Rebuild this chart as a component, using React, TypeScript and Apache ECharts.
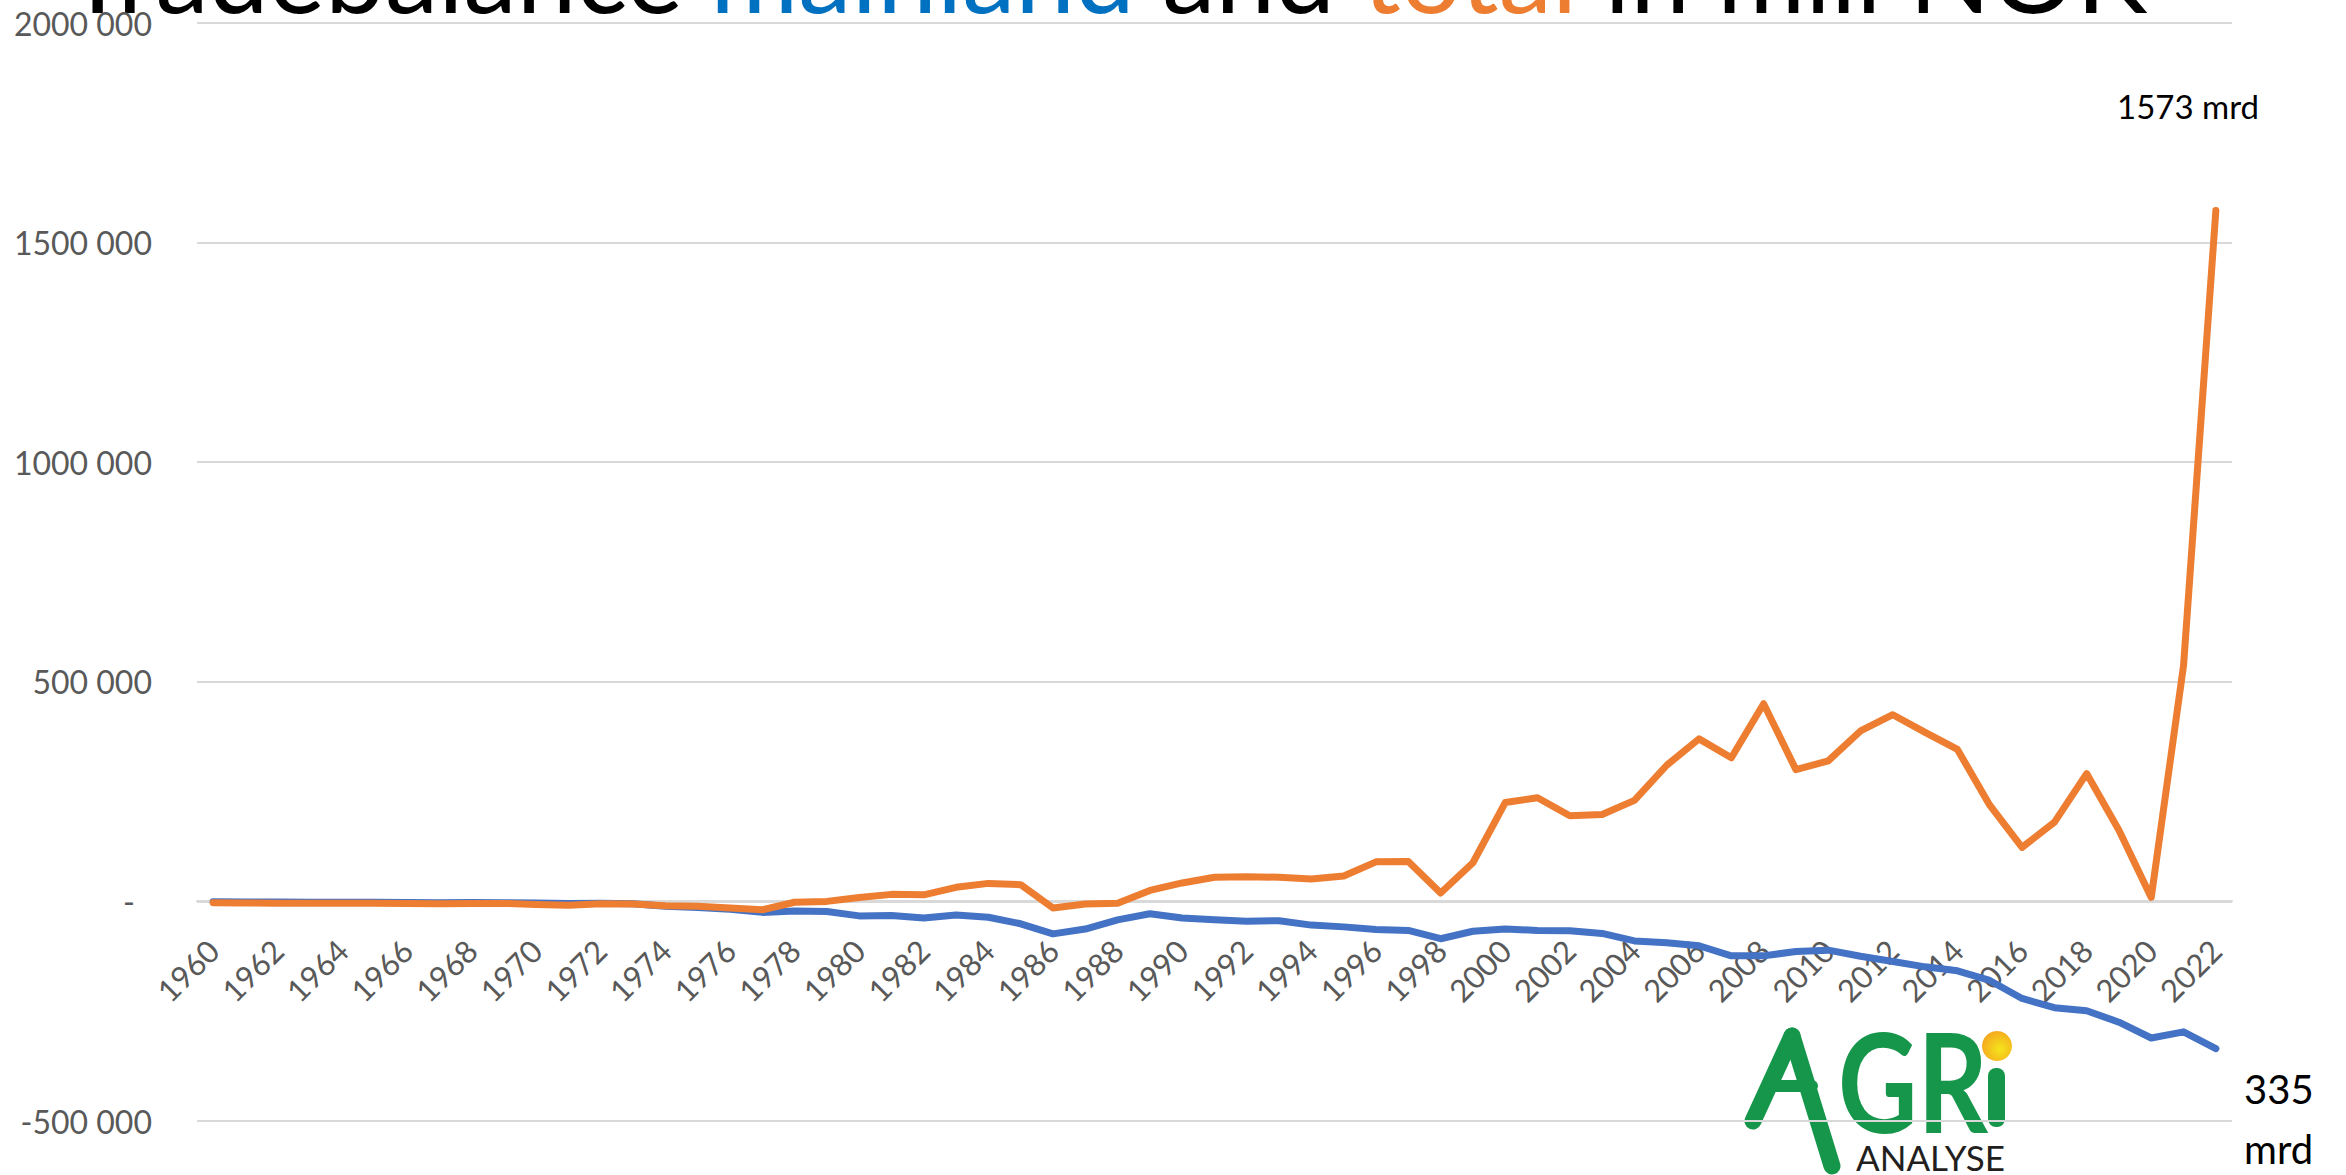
import React, { useEffect, useRef } from "react";
import * as echarts from "echarts";

const years: string[] = [];
for (let y = 1960; y <= 2022; y++) years.push(String(y));

const mainland: number[] = [
  -1000, -1200, -1500, -1800, -2000, -2200, -2500, -2800, -2600, -3000,
  -3500, -4500, -4000, -5500, -11000, -14000, -18000, -25000, -22000, -23000,
  -33000, -32000, -38000, -31000, -36000, -51000, -74000, -63000, -42000, -28000,
  -38000, -42000, -45000, -44000, -54000, -58000, -64000, -66000, -85000, -68000,
  -63000, -66000, -67000, -73000, -90000, -94000, -101000, -124000, -124000, -114000,
  -111000, -125000, -137000, -149000, -158000, -180000, -221000, -242000, -249000, -275000,
  -311000, -297000, -335000,
];

const total: number[] = [
  -3000, -3500, -4000, -4000, -4000, -4000, -4500, -5500, -4500, -4500,
  -7000, -8500, -5500, -6000, -10000, -11000, -15000, -19000, -2000, 0,
  9000, 16000, 15000, 32000, 41000, 38000, -15000, -6000, -4000, 25000,
  42000, 55000, 56000, 55000, 51000, 58000, 90000, 91000, 19000, 88000,
  225000, 236000, 195000, 198000, 230000, 310000, 370000, 327000, 450000, 300000,
  320000, 388000, 425000, 385000, 346000, 219000, 123000, 180000, 291000, 162000,
  9000, 537000, 1573000,
];

const yTicks = { min: -500000, max: 2000000, interval: 500000 };

const BLUE = "#4472C4";
const ORANGE = "#ED7D31";
const GREEN = "#16964a";

const GRID = { left: 197, right: 114, top: 23, bottom: 54 };
const PLOT_H = 1175 - GRID.top - GRID.bottom;
const ZERO_OFFSET = -Math.round((PLOT_H * (0 - yTicks.min)) / (yTicks.max - yTicks.min));

function fmtY(v: number): string {
  if (v === 0) return "{z|-}";
  return `${v / 1000} 000`;
}

export default function App() {
  const ref = useRef<HTMLDivElement>(null);
  useEffect(() => {
    if (!ref.current) return;
    const chart = echarts.init(ref.current, null, { renderer: "svg" });
    chart.setOption({
      animation: false,
      backgroundColor: "#ffffff",
      grid: { ...GRID, containLabel: false, outerBoundsMode: "none" },
      xAxis: {
        type: "category",
        data: years,
        boundaryGap: true,
        position: "bottom",
        offset: ZERO_OFFSET,
        axisLine: { onZero: false, lineStyle: { color: "#d9d9d9", width: 2 } },
        axisTick: { show: false },
        axisLabel: {
          interval: 1,
          rotate: 45,
          margin: 44,
          color: "#595959",
          fontSize: 31,
          fontFamily: "Lato",
        },
        splitLine: { show: false },
      },
      yAxis: {
        type: "value",
        min: yTicks.min,
        max: yTicks.max,
        interval: yTicks.interval,
        axisLine: { show: false },
        axisTick: { show: false },
        splitLine: { lineStyle: { color: "#d9d9d9", width: 2 } },
        axisLabel: {
          margin: 45,
          color: "#595959",
          fontSize: 32,
          fontFamily: "Lato",
          formatter: fmtY,
          rich: { z: { padding: [0, 17, 0, 0], color: "#595959", fontSize: 32, fontFamily: "Lato" } },
        },
      },
      series: [
        {
          name: "mainland",
          type: "line",
          data: mainland,
          symbol: "none",
          lineStyle: { color: BLUE, width: 7, cap: "round", join: "round" },
        },
        {
          name: "total",
          type: "line",
          data: total,
          symbol: "none",
          lineStyle: { color: ORANGE, width: 7, cap: "round", join: "round" },
        },
      ],
      graphic: [
        {
          type: "text",
          x: 66,
          y: -29,
          style: {
            text: "{a|Tradebalance }{b|mainland}{a| and }{c|total}{a| in mill NOK}",
            fontSize: 107,
            fontFamily: "Lato",
            verticalAlign: "middle",
            rich: {
              a: { fill: "#000000", fontSize: 107, fontFamily: "Lato" },
              b: { fill: "#0070C0", fontSize: 107, fontFamily: "Lato" },
              c: { fill: ORANGE, fontSize: 107, fontFamily: "Lato" },
            },
          },
        },
        {
          type: "text",
          x: 2117,
          y: 106,
          style: { text: "1573 mrd", fill: "#000000", fontSize: 33, fontFamily: "Lato", verticalAlign: "middle" },
        },
        {
          type: "text",
          x: 2244,
          y: 1089,
          style: { text: "335", fill: "#000000", fontSize: 40, fontFamily: "Lato", verticalAlign: "middle" },
        },
        {
          type: "text",
          x: 2244,
          y: 1149,
          style: { text: "mrd", fill: "#000000", fontSize: 40, fontFamily: "Lato", verticalAlign: "middle" },
        },
        {
          type: "group",
          children: [
            { type: "line", shape: { x1: 1792, y1: 1036, x2: 1753, y2: 1121 }, style: { stroke: GREEN, lineWidth: 17, lineCap: "round" } },
            { type: "line", shape: { x1: 1792, y1: 1036, x2: 1832, y2: 1166 }, style: { stroke: GREEN, lineWidth: 17, lineCap: "round" } },
            { type: "line", shape: { x1: 1768, y1: 1086, x2: 1812, y2: 1086 }, style: { stroke: GREEN, lineWidth: 12, lineCap: "round" } },
            {
              type: "text",
              x: 1838,
              y: 1080,
              scaleX: 0.8,
              style: { text: "GR", fill: GREEN, fontSize: 137, fontWeight: "bold", fontFamily: "Lato", verticalAlign: "middle" },
            },
            { type: "rect", shape: { x: 1988, y: 1068, width: 17, height: 59, r: 8 }, style: { fill: GREEN } },
            {
              type: "circle",
              shape: { cx: 1997, cy: 1046, r: 15 },
              style: {
                fill: new echarts.graphic.RadialGradient(0.6, 0.6, 0.7, [
                  { offset: 0, color: "#f5e51c" },
                  { offset: 1, color: "#f5a21f" },
                ]),
              },
            },
            {
              type: "text",
              x: 1856,
              y: 1157,
              style: { text: "ANALYSE", fill: "#231f20", fontSize: 35, fontFamily: "Lato", verticalAlign: "middle" },
            },
          ],
        },
      ],
    });
    return () => chart.dispose();
  }, []);
  return (
    <div
      ref={ref}
      style={{ position: "absolute", left: 0, top: 0, width: 2346, height: 1175, background: "#fff" }}
    />
  );
}
